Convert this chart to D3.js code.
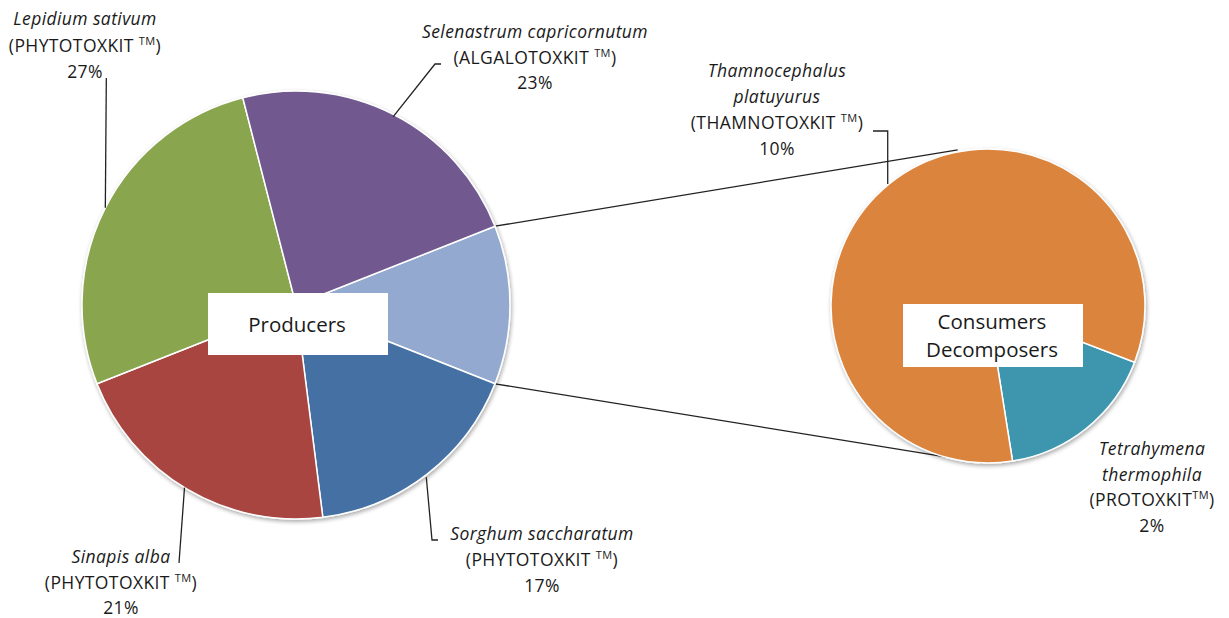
<!DOCTYPE html>
<meta charset="utf-8">
<script src="https://d3js.org/d3.v7.min.js"></script>
<style>
  body { margin: 0; background: #fff; }
  text { font-family: "Open Sans", "Liberation Sans", sans-serif; fill: #1a1a1a; }
</style>
<div id="my_dataviz"></div>
<script>

// data: main pie (the "other" slice first, it is split in the second pie)
var mainNames = ["Other", "Sorghum saccharatum", "Sinapis alba", "Lepidium sativum", "Selenastrum capricornutum"]
var mainKits = ["", "PHYTOTOXKIT ", "PHYTOTOXKIT ", "PHYTOTOXKIT ", "ALGALOTOXKIT "]
var mainValues = [12, 17, 21, 27, 23]
var mainColors = ["#93a9cf", "#4470a3", "#a8453f", "#89a54e", "#71588f"]

// data: second pie
var subNames = ["Tetrahymena thermophila", "Thamnocephalus platuyurus"]
var subKits = ["PROTOXKIT", "THAMNOTOXKIT "]
var subValues = [2, 10]
var subColors = ["#3d96ae", "#db843d"]

var width = 1229
var height = 618

var svg = d3.select("#my_dataviz")
  .append("svg")
    .attr("width", width)
    .attr("height", height)

var deg = Math.PI / 180

// main pie
var c1 = {x: 296, y: 305}, r1 = 214
var total1 = d3.sum(mainValues)
var otherSpan = mainValues[0] / total1 * 2 * Math.PI
var pie1 = d3.pie().sort(null)
  .startAngle(Math.PI / 2 - otherSpan / 2)
  .endAngle(Math.PI / 2 - otherSpan / 2 + 2 * Math.PI)
var arcs1 = pie1(mainValues)
var arc1 = d3.arc().innerRadius(0).outerRadius(r1)

// second pie
var c2 = {x: 988, y: 306}, r2 = 157
var pie2 = d3.pie().sort(null)
  .startAngle(111 * deg)
  .endAngle(111 * deg + 2 * Math.PI)
var arcs2 = pie2(subValues)
var arc2 = d3.arc().innerRadius(0).outerRadius(r2)

function polar(c, r, a) {
  return [c.x + r * Math.sin(a), c.y - r * Math.cos(a)]
}

// soft shadow
var defs = svg.append("defs")
var f = defs.append("filter").attr("id", "shadow").attr("x", "-10%").attr("y", "-10%").attr("width", "120%").attr("height", "120%")
f.append("feGaussianBlur").attr("in", "SourceAlpha").attr("stdDeviation", 2)
f.append("feOffset").attr("dx", 1).attr("dy", 2).attr("result", "b")
f.append("feComponentTransfer").append("feFuncA").attr("type", "linear").attr("slope", 0.35)
var fm = f.append("feMerge")
fm.append("feMergeNode")
fm.append("feMergeNode").attr("in", "SourceGraphic")

// connector lines between the two pies
var topA = polar(c1, r1, arcs1[0].startAngle)
var botA = polar(c1, r1, arcs1[0].endAngle)
var topB = polar(c2, r2 + 2, -11 * deg)
var botB = polar(c2, r2, 182 * deg)
svg.append("line").attr("x1", topA[0]).attr("y1", topA[1]).attr("x2", topB[0]).attr("y2", topB[1])
  .attr("stroke", "#222").attr("stroke-width", 1.3)
svg.append("line").attr("x1", botA[0]).attr("y1", botA[1]).attr("x2", botB[0]).attr("y2", botB[1])
  .attr("stroke", "#222").attr("stroke-width", 1.3)

svg.append("g")
  .attr("transform", "translate(" + c1.x + "," + c1.y + ")")
  .attr("filter", "url(#shadow)")
  .selectAll("path")
  .data(arcs1)
  .enter()
  .append("path")
    .attr("d", arc1)
    .style("fill", function(d, i){ return mainColors[i] })
    .attr("stroke", "#fff")
    .style("stroke-width", 1.5)

svg.append("g")
  .attr("transform", "translate(" + c2.x + "," + c2.y + ")")
  .attr("filter", "url(#shadow)")
  .selectAll("path")
  .data(arcs2)
  .enter()
  .append("path")
    .attr("d", arc2)
    .style("fill", function(d, i){ return subColors[i] })
    .attr("stroke", "#fff")
    .style("stroke-width", 1.5)

// leader lines: pie point -> elbow -> end
function leader(pts) {
  svg.append("path")
    .attr("d", d3.line()(pts))
    .attr("fill", "none")
    .attr("stroke", "#222")
    .attr("stroke-width", 1.3)
}
var pLep = polar(c1, r1, 297 * deg)
leader([pLep, [pLep[0] + 1, 78]])
var pSel = polar(c1, r1 - 2, 27.3 * deg)
leader([pSel, [435, 64], [441, 64]])
var pSor = polar(c1, r1 + 2, 142.9 * deg)
leader([pSor, [432, 540], [438, 540]])
var pSin = polar(c1, r1, 211.4 * deg)
leader([pSin, [179, 563]])
var pTha = polar(c2, r2 + 1, 320.6 * deg)
leader([pTha, [pTha[0], 131], [873, 131]])

// labels (layout positions per label)
function pct(v) { return Math.round(v) + "%" }
var labels = [
  {kit: mainKits[3], v: mainValues[3], x: 85, y: 25, lh: 26.5, lines: [mainNames[3]]},
  {kit: mainKits[4], v: mainValues[4], x: 535, y: 38, lh: 25.5, lines: [mainNames[4]]},
  {kit: subKits[1], v: subValues[1], x: 777, y: 77, lh: 26, lines: ["Thamnocephalus", "platuyurus"]},
  {kit: subKits[0], v: subValues[0], x: 1152, y: 455, lh: 25.7, lines: ["Tetrahymena", "thermophila"]},
  {kit: mainKits[1], v: mainValues[1], x: 542, y: 540, lh: 26, lines: [mainNames[1]]},
  {kit: mainKits[2], v: mainValues[2], x: 121, y: 563, lh: 25.5, lines: [mainNames[2]]}
]
var fs = "17.5px"
labels.forEach(function(l) {
  var g = svg.append("g").style("letter-spacing", "0.4px")
  l.lines.forEach(function(s, i) {
    g.append("text")
      .attr("x", l.x).attr("y", l.y + i * l.lh)
      .attr("text-anchor", "middle")
      .style("font-size", fs)
      .style("font-style", "italic")
      .text(s)
  })
  var n = l.lines.length
  var t = g.append("text")
    .attr("x", l.x).attr("y", l.y + n * l.lh)
    .attr("text-anchor", "middle")
    .style("font-size", fs)
    .style("white-space", "pre")
  t.append("tspan").text("(" + l.kit)
  t.append("tspan").attr("dy", -7).style("font-size", "11px").text("TM")
  t.append("tspan").attr("dy", 7).text(")")
  g.append("text")
    .attr("x", l.x).attr("y", l.y + (n + 1) * l.lh)
    .attr("text-anchor", "middle")
    .style("font-size", fs)
    .text(pct(l.v))
})

// boxes
svg.append("rect").attr("x", 208).attr("y", 293).attr("width", 180).attr("height", 62).attr("fill", "#fff")
svg.append("text").attr("x", 297).attr("y", 332).attr("text-anchor", "middle")
  .style("font-size", "20.5px").text("Producers")

svg.append("rect").attr("x", 903).attr("y", 304).attr("width", 180).attr("height", 63).attr("fill", "#fff")
svg.append("text").attr("x", 992).attr("y", 329).attr("text-anchor", "middle")
  .style("font-size", "20.5px").text("Consumers")
svg.append("text").attr("x", 992).attr("y", 357).attr("text-anchor", "middle")
  .style("font-size", "20.5px").text("Decomposers")

</script>
